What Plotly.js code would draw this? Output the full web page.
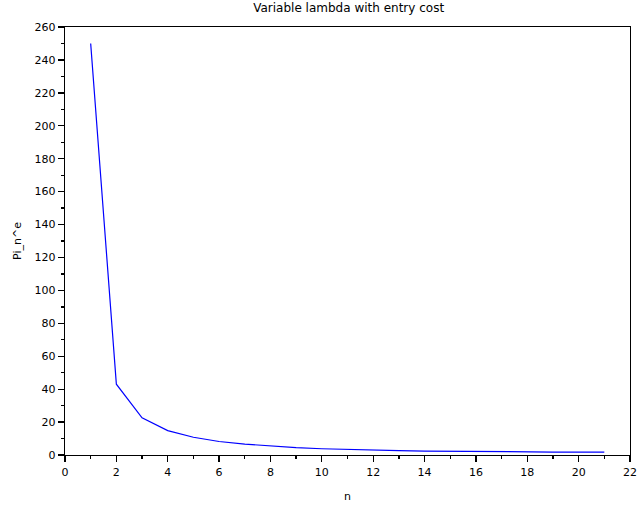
<!DOCTYPE html>
<html>
<head>
<meta charset="utf-8">
<script src="https://cdn.plot.ly/plotly-3.0.1.min.js"></script>
<style>html,body{margin:0;padding:0;background:#fff;}#chart{width:638px;height:508px;}</style>
</head>
<body>
<div id="chart"></div>
<script>
const nValues = [1,2,3,4,5,6,7,8,9,10,11,12,13,14,15,16,17,18,19,20,21];
const piValues = [250,43,22.6,14.8,10.8,8.2,6.6,5.4,4.5,3.8,3.3,2.9,2.6,2.4,2.2,2.1,2.0,1.9,1.8,1.75,1.7];
const xTicks = [0,2,4,6,8,10,12,14,16,18,20,22];
const yTicks = [0,20,40,60,80,100,120,140,160,180,200,220,240,260];

const font = {family: 'DejaVu Sans, Verdana, sans-serif', size: 11, color: '#000'};
const trace = {x: nValues, y: piValues, type: 'scatter', mode: 'lines',
  line: {color: '#0000ff', width: 1.2}};
const axisCommon = {showline: true, linecolor: '#000', linewidth: 1.3, mirror: true,
  ticks: 'outside', ticklen: 6, tickwidth: 1.3, tickcolor: '#000', showgrid: false,
  zeroline: false, tickfont: font, ticklabeloverflow: 'allow'};
const layout = {
  width: 638, height: 508,
  margin: {l: 65, r: 7.5, t: 27, b: 53},
  paper_bgcolor: '#fff', plot_bgcolor: '#fff',
  font: font,
  showlegend: false,
  title: {text: 'Variable lambda with entry cost', font: {family: 'DejaVu Sans, Verdana, sans-serif', size: 12, color: '#000'}, x: 0.5465, xanchor: 'center', y: 0.984, yanchor: 'middle'},
  xaxis: Object.assign({}, axisCommon, {range: [0, 22], tickmode: 'array', tickvals: xTicks,
    minor: {dtick: 1, tick0: 0, ticks: 'outside', ticklen: 3, tickwidth: 1.3, tickcolor: '#000'},
    title: {text: 'n', font: font, standoff: 14}}),
  yaxis: Object.assign({}, axisCommon, {range: [0, 260], tickmode: 'array', tickvals: yTicks,
    minor: {dtick: 10, tick0: 0, ticks: 'outside', ticklen: 3, tickwidth: 1.3, tickcolor: '#000'},
    title: {text: 'Pi_n^e', font: font, standoff: 10}})
};
Plotly.newPlot('chart', [trace], layout, {displayModeBar: false, staticPlot: true});
</script>
</body>
</html>
